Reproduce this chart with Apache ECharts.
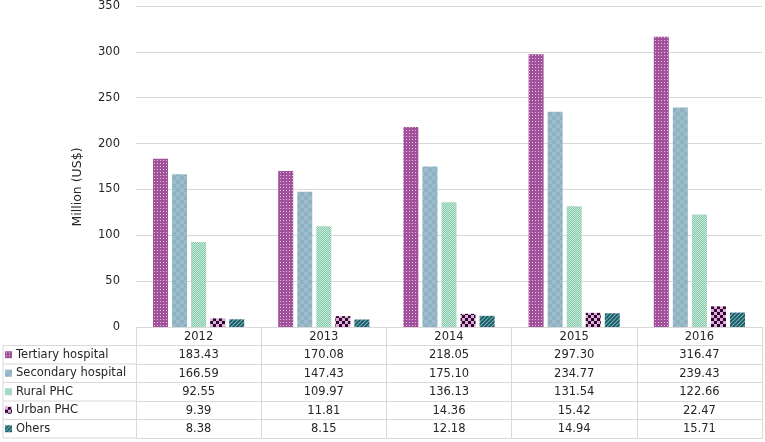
<!DOCTYPE html>
<html>
<head>
<meta charset="utf-8">
<script src="https://cdn.jsdelivr.net/npm/echarts@6/dist/echarts.min.js"></script>
<style>
  html, body { margin: 0; padding: 0; background: #fff; }
  #chart { width: 765px; height: 442px; }
</style>
</head>
<body>
<div id="chart"></div>
<script>
const years = ["2012", "2013", "2014", "2015", "2016"];
const tertiary = [183.43, 170.08, 218.05, 297.30, 316.47];
const secondary = [166.59, 147.43, 175.10, 234.77, 239.43];
const ruralPHC = [92.55, 109.97, 136.13, 131.54, 122.66];
const urbanPHC = [9.39, 11.81, 14.36, 15.42, 22.47];
const others = [8.38, 8.15, 12.18, 14.94, 15.71];
const seriesNames = ["Tertiary hospital", "Secondary hospital", "Rural PHC", "Urban PHC", "Ohers"];
const yMin = 0;
const yMax = 350;
const yStep = 50;

const FONT = "DejaVu Sans";
const FONT_SIZE = 11.5;
const TEXT = "#262626";
const BORDER = "#d9d9d9";
const ROW_H = 18.5;
const GRID_LEFT = 136;
const GRID_BOTTOM = 115;
const TABLE_LEFT = 3;

const makePattern = (size, draw) => {
  const canvas = document.createElement("canvas");
  canvas.width = size;
  canvas.height = size;
  draw(canvas.getContext("2d"), size);
  return { image: canvas, repeat: "repeat" };
};

const patterns = [
  makePattern(3, (ctx) => {
    ctx.fillStyle = "#a0519a";
    ctx.fillRect(0, 0, 3, 3);
    ctx.fillStyle = "#e3bfe0";
    ctx.fillRect(1, 1, 1, 1);
  }),
  makePattern(8, (ctx) => {
    ctx.fillStyle = "#8fb2c3";
    ctx.fillRect(0, 0, 8, 8);
    ctx.fillStyle = "#9cbccb";
    ctx.fillRect(0, 0, 4, 4);
    ctx.fillRect(4, 4, 4, 4);
  }),
  makePattern(2, (ctx) => {
    ctx.fillStyle = "#84caab";
    ctx.fillRect(0, 0, 2, 2);
    ctx.fillStyle = "#c6e9d9";
    ctx.fillRect(0, 0, 1, 1);
    ctx.fillRect(1, 1, 1, 1);
  }),
  makePattern(6, (ctx) => {
    ctx.fillStyle = "#2b0b2b";
    ctx.fillRect(0, 0, 6, 6);
    ctx.fillStyle = "#e4a9df";
    ctx.fillRect(0, 0, 3, 3);
    ctx.fillRect(3, 3, 3, 3);
  }),
  makePattern(4, (ctx) => {
    ctx.fillStyle = "#6fb0bc";
    ctx.fillRect(0, 0, 4, 4);
    ctx.strokeStyle = "#1b5560";
    ctx.lineWidth = 1.6;
    ctx.beginPath();
    ctx.moveTo(-1, 5);
    ctx.lineTo(5, -1);
    ctx.moveTo(-1, 1);
    ctx.lineTo(1, -1);
    ctx.moveTo(3, 5);
    ctx.lineTo(5, 3);
    ctx.stroke();
  }),
];

const seriesData = [tertiary, secondary, ruralPHC, urbanPHC, others];

const chart = echarts.init(document.getElementById("chart"));

const baseXAxis = (offset) => ({
  type: "category",
  data: years,
  position: "bottom",
  offset,
  boundaryGap: true,
  axisLine: { show: true, lineStyle: { color: BORDER, width: 1 } },
  axisTick: { show: true, interval: 0, alignWithLabel: false, length: ROW_H, lineStyle: { color: BORDER, width: 1 } },
  axisLabel: {
    interval: 0,
    margin: 4,
    color: TEXT,
    fontFamily: FONT,
    fontSize: FONT_SIZE,
  },
  splitLine: { show: false },
});

const xAxes = [baseXAxis(0)];
seriesData.forEach((values, i) => {
  const axis = baseXAxis(ROW_H * (i + 1));
  axis.axisLabel.formatter = (value, idx) => values[idx].toFixed(2);
  xAxes.push(axis);
});
const closingAxis = baseXAxis(ROW_H * 6);
closingAxis.axisTick = { show: false };
closingAxis.axisLabel = { show: false };
xAxes.push(closingAxis);

// left column of the data table (legend cells)
const tableTop = 442 - GRID_BOTTOM + ROW_H;
const tableLines = [];
for (let r = 0; r <= 5; r++) {
  tableLines.push({
    type: "line",
    shape: { x1: TABLE_LEFT, y1: tableTop + r * ROW_H, x2: GRID_LEFT, y2: tableTop + r * ROW_H },
    style: { stroke: BORDER, lineWidth: 1 },
    silent: true,
  });
}
tableLines.push({
  type: "line",
  shape: { x1: TABLE_LEFT, y1: tableTop, x2: TABLE_LEFT, y2: tableTop + 5 * ROW_H },
  style: { stroke: BORDER, lineWidth: 1 },
  silent: true,
});

chart.setOption({
  animation: false,
  backgroundColor: "#fff",
  textStyle: { fontFamily: FONT },
  grid: { left: GRID_LEFT, right: 3, top: 5, bottom: GRID_BOTTOM, containLabel: false },
  legend: {
    orient: "vertical",
    left: TABLE_LEFT + 2,
    top: tableTop,
    padding: 0,
    itemGap: 0,
    itemWidth: 7,
    itemHeight: 7,
    selectedMode: false,
    icon: "rect",
    textStyle: { color: TEXT, fontFamily: FONT, fontSize: FONT_SIZE, lineHeight: ROW_H, padding: [0, 0, 0, -1] },
    data: seriesNames,
  },
  xAxis: xAxes,
  yAxis: {
    type: "value",
    min: yMin,
    max: yMax,
    interval: yStep,
    axisLine: { show: false },
    axisTick: { show: false },
    axisLabel: { margin: 16, color: TEXT, fontFamily: FONT, fontSize: FONT_SIZE },
    splitLine: { lineStyle: { color: BORDER, width: 1 } },
  },
  graphic: [
    ...tableLines,
    {
      type: "text",
      x: 78,
      y: 187,
      rotation: Math.PI / 2,
      style: {
        text: "Million (US$)",
        fill: TEXT,
        font: `12.5px "${FONT}"`,
        align: "center",
        verticalAlign: "middle",
      },
      silent: true,
    },
  ],
  series: seriesData.map((values, i) => ({
    name: seriesNames[i],
    type: "bar",
    data: values,
    xAxisIndex: 0,
    barWidth: 15,
    barGap: "27%",
    itemStyle: { color: patterns[i] },
  })),
});
</script>
</body>
</html>
